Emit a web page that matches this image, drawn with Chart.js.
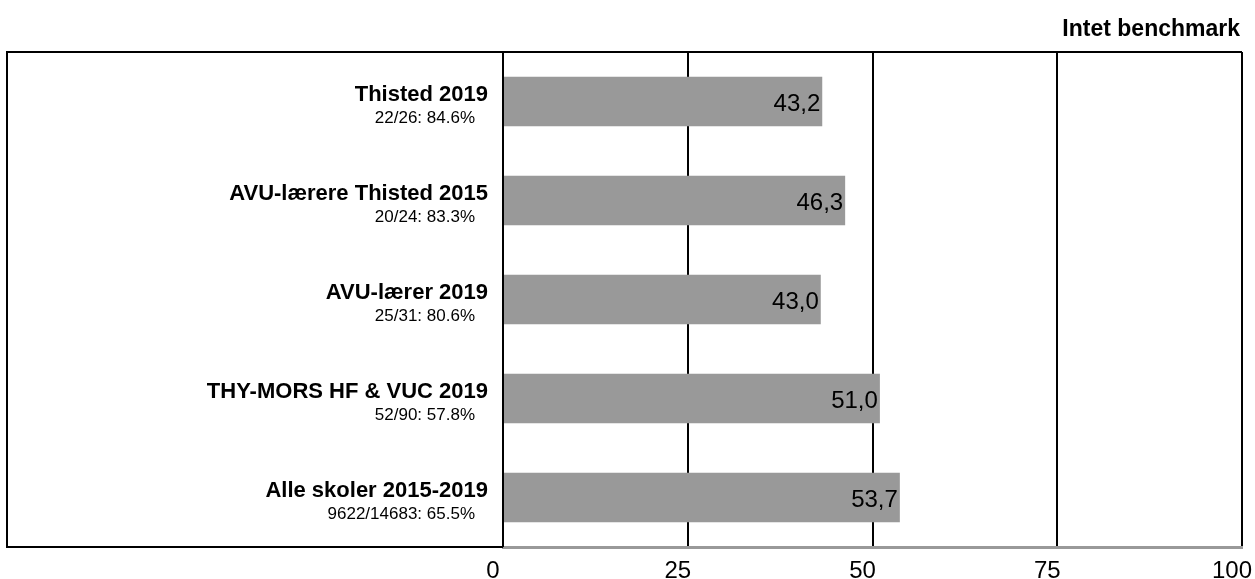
<!DOCTYPE html>
<html>
<head>
<meta charset="utf-8">
<title>Intet benchmark</title>
<script src="https://cdn.jsdelivr.net/npm/chart.js@4"></script>
<style>
    body { margin: 0; background: #ffffff; }
    canvas { display: block; }
</style>
</head>
<body>
<canvas id="benchChart" width="1255" height="579"></canvas>
<script>
// data
const groupNames = ['Thisted 2019', 'AVU-lærere Thisted 2015', 'AVU-lærer 2019', 'THY-MORS HF & VUC 2019', 'Alle skoler 2015-2019'];
const groupCounts = ['22/26: 84.6%', '20/24: 83.3%', '25/31: 80.6%', '52/90: 57.8%', '9622/14683: 65.5%'];
const scores = [43.2, 46.3, 43.0, 51.0, 53.7];
const axisTicks = [0, 25, 50, 75, 100];
const headerText = 'Intet benchmark';

const FONT = '"Liberation Sans", Arial, Helvetica, sans-serif';

document.addEventListener('DOMContentLoaded', function() {
    const ctx = document.getElementById('benchChart');

    // ramme, overskrift og tekster tegnes her
    const decorPlugin = {
        id: 'decor',
        afterDatasetsDraw(chart) {
            const c = chart.ctx;
            const area = chart.chartArea;
            const xScale = chart.scales.x;
            const zeroX = xScale.getPixelForValue(0);
            const left = 7;

            c.save();
            c.strokeStyle = '#000000';
            c.lineWidth = 2;
            c.beginPath();
            // top + venstre + bund (venstre del)
            c.moveTo(area.right, area.top);
            c.lineTo(left, area.top);
            c.lineTo(left, area.bottom);
            c.lineTo(zeroX, area.bottom);
            // 0-aksen
            c.moveTo(zeroX, area.top);
            c.lineTo(zeroX, area.bottom);
            c.stroke();

            // overskrift
            c.fillStyle = '#000000';
            c.font = 'bold 23px ' + FONT;
            c.textAlign = 'right';
            c.textBaseline = 'alphabetic';
            c.fillText(headerText, 1240, 36);

            const meta = chart.getDatasetMeta(0);
            meta.data.forEach((bar, i) => {
                // værdi inde i søjlen
                c.font = '24px ' + FONT;
                c.textAlign = 'right';
                c.textBaseline = 'middle';
                c.fillText(scores[i].toFixed(1).replace('.', ','), bar.x - 2, bar.y + 3);

                // kategori-tekst
                c.textBaseline = 'alphabetic';
                c.font = 'bold 22px ' + FONT;
                c.fillText(groupNames[i], 488, bar.y - 1);
                c.font = '17px ' + FONT;
                c.fillText(groupCounts[i], 475, bar.y + 21);
            });
            c.restore();
        }
    };

    new Chart(ctx, {
        type: 'bar',
        data: {
            labels: groupNames,
            datasets: [{
                data: scores,
                backgroundColor: '#999999',
                borderWidth: 0,
                barPercentage: 0.5,
                categoryPercentage: 1.0
            }]
        },
        options: {
            indexAxis: 'y',
            responsive: false,
            animation: false,
            layout: {
                padding: { left: 503, right: 13, top: 52, bottom: 0 }
            },
            scales: {
                x: {
                    min: 0,
                    max: 100,
                    afterBuildTicks: function(scale) {
                        scale.ticks = axisTicks.map(v => ({ value: v }));
                    },
                    afterFit: function(scale) {
                        scale.paddingLeft = 0;
                        scale.paddingRight = 0;
                        scale.height = 32;
                    },
                    grid: {
                        color: '#000000',
                        lineWidth: 2,
                        drawTicks: false
                    },
                    border: {
                        color: '#999999',
                        width: 3
                    },
                    ticks: {
                        padding: 10,
                        labelOffset: -10,
                        color: '#000000',
                        font: { family: FONT, size: 24 }
                    }
                },
                y: {
                    display: false
                }
            },
            plugins: {
                legend: { display: false },
                tooltip: { enabled: false }
            }
        },
        plugins: [decorPlugin]
    });
});
</script>
</body>
</html>
